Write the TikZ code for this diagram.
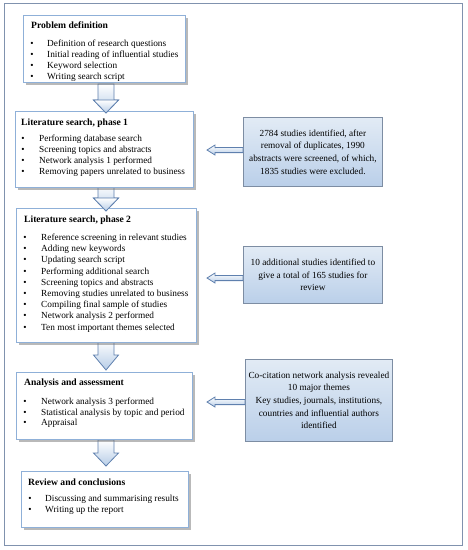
\documentclass[tikz,border=0pt]{standalone}
\usepackage{fontspec}
\setmainfont{Liberation Serif}
\usetikzlibrary{shadows,calc}
\definecolor{lborder}{HTML}{8FB0D8}
\definecolor{rborder}{HTML}{7D8DA3}
\definecolor{frame}{HTML}{8092AE}
\definecolor{arrline}{HTML}{5F80AE}
\definecolor{arrfill}{HTML}{B7CDE7}
\definecolor{rtop}{HTML}{E2EBF5}
\definecolor{rmid}{HTML}{F2F6FB}
\definecolor{rbot}{HTML}{BACFE9}
\begin{document}
\begin{tikzpicture}[x=1pt,y=-1pt,
  lbox/.style={draw=lborder, line width=1.1pt, fill=white, anchor=north west, inner sep=0pt,
    drop shadow={shadow xshift=2.2pt, shadow yshift=-2.2pt, fill=black!55, opacity=0.5}},
  rbox/.style={draw=rborder, line width=0.8pt, top color=rtop, middle color=rmid, bottom color=rbot,
    anchor=north west, inner sep=0pt},
  ttl/.style={anchor=base west, inner sep=0pt, font=\fontsize{9.6}{11}\selectfont\bfseries},
  itm/.style={anchor=base west, inner sep=0pt, font=\fontsize{9.3}{11}\selectfont},
  bul/.style={anchor=base, inner sep=0pt, font=\fontsize{9.3}{11}\selectfont},
  rtxt/.style={align=center, inner sep=0pt, font=\fontsize{9.3}{12.6}\selectfont},
  darr/.style={draw=arrline, line width=0.8pt, top color=white, bottom color=arrfill, line join=miter},
  larr/.style={draw=arrline, line width=0.8pt, top color=white, bottom color=arrfill, line join=miter}
]
\useasboundingbox (0,0) rectangle (467,550);
\node[draw=frame, line width=0.9pt, anchor=north west, inner sep=0pt, minimum width=458pt, minimum height=542pt] (frm) at (4,3) {};

% down arrows
\path[darr] (98,84) -- (114,84) -- (114,100) -- (118.5,100) -- (106,113) -- (93.5,100) -- (98,100) -- cycle;
\path[darr] (98,185) -- (114,185) -- (114,198) -- (118.5,198) -- (106,211) -- (93.5,198) -- (98,198) -- cycle;
\path[darr] (98,340) -- (114,340) -- (114,355) -- (118.5,355) -- (106,370) -- (93.5,355) -- (98,355) -- cycle;
\path[darr] (98,440) -- (114,440) -- (114,453) -- (118.5,453) -- (106,466) -- (93.5,453) -- (98,453) -- cycle;

% left boxes
\node[lbox, minimum width=162pt, minimum height=67pt] (b1) at (23,15) {};
\node[lbox, minimum width=178pt, minimum height=76pt] (b2) at (15,111) {};
\node[lbox, minimum width=180pt, minimum height=134pt] (b3) at (16,208) {};
\node[lbox, minimum width=176pt, minimum height=67pt] (b4) at (16,372) {};
\node[lbox, minimum width=167pt, minimum height=56pt] (b5) at (21,471) {};

% redraw arrow tips over boxes
\path[darr] (93.5,100) -- (118.5,100) -- (106,113) -- cycle;
\path[darr] (93.5,198) -- (118.5,198) -- (106,211) -- cycle;

% titles
\node[ttl] (t1) at (31,28) {Problem definition};
\node[ttl] (t2) at (21,125) {Literature search, phase 1};
\node[ttl] (t3) at (24,222.5) {Literature search, phase 2};
\node[ttl] (t4) at (24,385.5) {Analysis and assessment};
\node[ttl] (t5) at (28,485) {Review and conclusions};

% items
\foreach \t [count=\i] in {Definition of research questions, Initial reading of influential studies, Keyword selection, Writing search script}{
  \node[bul] (b1b\i) at (32,{46+(\i-1)*11}) {\textbullet};
  \node[itm] (b1i\i) at (47,{46+(\i-1)*11}) {\t};
}
\foreach \t [count=\i] in {Performing database search, Screening topics and abstracts, Network analysis 1 performed, Removing papers unrelated to business}{
  \node[bul] (b2b\i) at (23,{141.5+(\i-1)*11}) {\textbullet};
  \node[itm] (b2i\i) at (39,{141.5+(\i-1)*11}) {\t};
}
\foreach \t [count=\i] in {Reference screening in relevant studies, Adding new keywords, Updating search script, Performing additional search, Screening topics and abstracts, Removing studies unrelated to business, Compiling final sample of studies, Network analysis 2 performed, Ten most important themes selected}{
  \node[bul] (b3b\i) at (25,{240.5+(\i-1)*11.2}) {\textbullet};
  \node[itm] (b3i\i) at (41,{240.5+(\i-1)*11.2}) {\t};
}
\foreach \t [count=\i] in {Network analysis 3 performed, Statistical analysis by topic and period, Appraisal}{
  \node[bul] (b4b\i) at (25,{404.5+(\i-1)*10.7}) {\textbullet};
  \node[itm] (b4i\i) at (41,{404.5+(\i-1)*10.7}) {\t};
}
\foreach \t [count=\i] in {Discussing and summarising results, Writing up the report}{
  \node[bul] (b5b\i) at (30,{501.5+(\i-1)*11}) {\textbullet};
  \node[itm] (b5i\i) at (45,{501.5+(\i-1)*11}) {\t};
}

% right boxes
\node[rbox, minimum width=139pt, minimum height=69pt] (r1) at (243,117) {};
\node[rbox, minimum width=139pt, minimum height=57pt] (r2) at (243,246) {};
\node[rbox, minimum width=147pt, minimum height=82pt] (r3) at (245,359) {};
\node[rtxt] (r1t) at (r1.center) {2784 studies identified, after\\removal of duplicates, 1990\\abstracts were screened, of which,\\1835 studies were excluded.};
\node[rtxt] (r2t) at (r2.center) {10 additional studies identified to\\give a total of 165 studies for\\review};
\node[rtxt] (r3t) at (r3.center) {Co-citation network analysis revealed\\10 major themes\\Key studies, journals, institutions,\\countries and influential authors\\identified};

% left arrows
\coordinate (a1) at (207,150);
\coordinate (a2) at (207,278);
\coordinate (a3) at (207,402);
\foreach \r/\a in {r1/a1, r2/a2, r3/a3}{
  \path[larr] (\a) -- ++(8,-5) -- ++(0,2.6) -- ($(\r.west |- \a)+(0,-2.6)$) -- ($(\r.west |- \a)+(0,2.6)$) -- ($(\a)+(8,2.6)$) -- ++(0,2.4) -- cycle;
}
\end{tikzpicture}
\end{document}
